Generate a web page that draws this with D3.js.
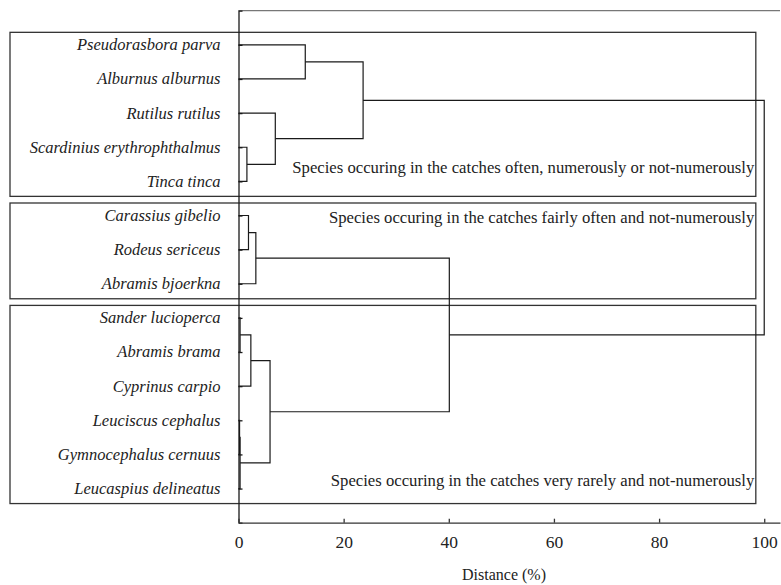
<!DOCTYPE html>
<html>
<head>
<meta charset="utf-8">
<script src="https://cdn.jsdelivr.net/npm/d3@7"></script>
<style>
    body { margin: 0; background: #fff; }
    svg text { font-family: "Liberation Serif", "DejaVu Serif", serif; fill: #222; }
    .species text { font-style: italic; font-size: 16.5px; }
    .x-axis text { font-size: 17.5px; }
    .group-label { font-size: 16.7px; }
</style>
</head>
<body>
<div id="chart"></div>
<script>
// leaf order, top to bottom
const species = [
    "Pseudorasbora parva", "Alburnus alburnus", "Rutilus rutilus",
    "Scardinius erythrophthalmus", "Tinca tinca",
    "Carassius gibelio", "Rodeus sericeus", "Abramis bjoerkna",
    "Sander lucioperca", "Abramis brama", "Cyprinus carpio",
    "Leuciscus cephalus", "Gymnocephalus cernuus", "Leucaspius delineatus"
];

// linkage: [child a, child b, distance %]; "mN" refers to the N-th merge
const merges = [
    ["Pseudorasbora parva", "Alburnus alburnus", 12.7],        // m0
    ["Scardinius erythrophthalmus", "Tinca tinca", 1.6],       // m1
    ["Rutilus rutilus", "m1", 7.0],                            // m2
    ["m0", "m2", 23.7],                                        // m3
    ["Carassius gibelio", "Rodeus sericeus", 1.9],             // m4
    ["m4", "Abramis bjoerkna", 3.3],                           // m5
    ["Sander lucioperca", "Abramis brama", 0.3],               // m6
    ["m6", "Cyprinus carpio", 2.35],                           // m7
    ["Leuciscus cephalus", "Gymnocephalus cernuus", 0.2],      // m8
    ["m8", "Leucaspius delineatus", 0.3],                      // m9
    ["m7", "m9", 6.0],                                         // m10
    ["m5", "m10", 40.1],                                       // m11
    ["m3", "m11", 100]                                         // m12
];

const groupFirst = ["Pseudorasbora parva", "Carassius gibelio", "Sander lucioperca"];
const groupLast = ["Tinca tinca", "Abramis bjoerkna", "Leucaspius delineatus"];
const groupLabels = [
    "Species occuring in the catches often, numerously or not-numerously",
    "Species occuring in the catches fairly often and not-numerously",
    "Species occuring in the catches very rarely and not-numerously"
];

const xTicks = [0, 20, 40, 60, 80, 100];
const xLabel = "Distance (%)";

const width = 781;
const height = 585;

const svg = d3.select('#chart')
    .append('svg')
    .attr('width', width)
    .attr('height', height);

const x = d3.scaleLinear().domain([0, 103]).range([238.5, 780]);
const y = d3.scalePoint().domain(species).range([10.7, 522.7]).padding(1);

// group boxes (drawn first, under everything)
const boxLeft = 10;
const boxRight = x(98.4);
// where each group's label baseline sits: [anchor species, offset]
const labelPos = [["Tinca tinca", -8], ["Carassius gibelio", 7.5], ["Leucaspius delineatus", -2.3]];

groupLabels.forEach((label, i) => {
    const top = y(groupFirst[i]) - 12.5;
    const bottom = y(groupLast[i]) + 15;
    svg.append('rect')
        .attr('x', boxLeft)
        .attr('y', top)
        .attr('width', boxRight - boxLeft)
        .attr('height', bottom - top)
        .style('fill', 'none')
        .style('stroke', '#333')
        .style('stroke-width', 1.3);

    svg.append('text')
        .attr('class', 'group-label')
        .attr('x', boxRight - 1.5)
        .attr('y', y(labelPos[i][0]) + labelPos[i][1])
        .style('text-anchor', 'end')
        .text(label);
});

// top frame line
svg.append('line')
    .attr('x1', x(0)).attr('x2', x(103))
    .attr('y1', 10.7).attr('y2', 10.7)
    .style('stroke', '#777')
    .style('stroke-width', 1.3);

// dendrogram
const nodes = {};
species.forEach(s => { nodes[s] = { x: x(0), y: y(s) }; });
merges.forEach((m, i) => {
    const a = nodes[m[0]];
    const b = nodes[m[1]];
    const xm = x(m[2]);
    nodes['m' + i] = { x: xm, y: (a.y + b.y) / 2 };
    svg.append('path')
        .attr('d', `M${a.x},${a.y}H${xm}V${b.y}H${b.x}`)
        .style('fill', 'none')
        .style('stroke', '#1a1a1a')
        .style('stroke-width', 1.2);
});

// axes
const yAxis = d3.axisLeft(y).tickSizeInner(-4).tickSizeOuter(-4).tickPadding(18);
svg.append('g')
    .attr('class', 'species')
    .attr('transform', `translate(${x(0)},0)`)
    .call(yAxis)
    .call(g => g.selectAll('path, line').style('stroke', '#1a1a1a').style('stroke-width', 1.3))
    .call(g => g.selectAll('text').attr('dy', '0.3em'));

const xAxis = d3.axisBottom(x).tickValues(xTicks).tickSizeInner(-4).tickSizeOuter(0).tickPadding(13);
svg.append('g')
    .attr('class', 'x-axis')
    .attr('transform', 'translate(0,522.7)')
    .call(xAxis)
    .call(g => g.selectAll('path, line').style('stroke', '#333').style('stroke-width', 1.3));

svg.append('text')
    .attr('x', 504)
    .attr('y', 580)
    .style('text-anchor', 'middle')
    .style('font-size', '16px')
    .text(xLabel);

d3.selectAll('.species, .x-axis').attr('font-family', null).attr('font-size', null);
</script>
</body>
</html>
